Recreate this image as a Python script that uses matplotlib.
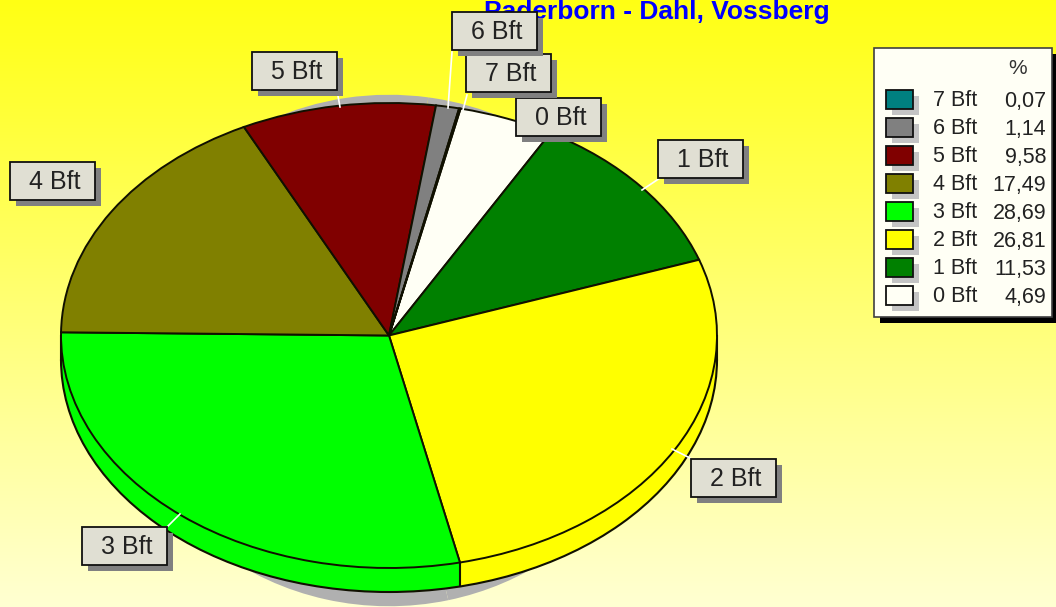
import numpy as np
import matplotlib
matplotlib.use("Agg")
import matplotlib.pyplot as plt
import matplotlib.transforms as mtrans
from matplotlib.patches import Rectangle, Arc

plt.rcParams['font.family'] = ['Liberation Sans', 'DejaVu Sans']

title = "Paderborn - Dahl, Vossberg"
categories = ["0 Bft", "1 Bft", "2 Bft", "3 Bft", "4 Bft", "5 Bft", "6 Bft", "7 Bft"]
values = [4.69, 11.53, 26.81, 28.69, 17.49, 9.58, 1.14, 0.07]
value_labels = ["4,69", "11,53", "26,81", "28,69", "17,49", "9,58", "1,14", "0,07"]
colors = ["#FFFFF5", "#008000", "#FFFF00", "#00FF00", "#808000", "#800000", "#808080", "#008080"]

W, H = 1056, 607
CX, CY, RX, RY, DEPTH = 389, 335.5, 328, 232.5, 24

fig = plt.figure(figsize=(W / 100, H / 100), dpi=100)

# background gradient
bg = fig.add_axes([0, 0, 1, 1], zorder=0)
t = np.linspace(0, 1, 256)[:, None]
blue = np.clip(20 + 190 * t, 0, 255)
img = np.dstack([np.full_like(t, 255), np.full_like(t, 255), blue]) / 255
bg.imshow(img, aspect='auto', extent=(0, 1, 0, 1))
bg.axis('off')

# pie axes: unit circle maps to the ellipse
ax = fig.add_axes([0, 0, 1, 1], zorder=1)
start = 77.4
d = DEPTH / RY


def pie(center, cols, radius=1, **kw):
    w, _ = ax.pie(values, colors=cols, startangle=start, counterclock=False,
                  center=center, radius=radius, frame=False, **kw)
    return w


# shadow: a narrower ellipse peeking out above and below the pie
shadow = pie((0, -15 / RY), ["#B0B0B0"] * len(values), radius=1.1, wedgeprops=dict(linewidth=0))
# side wall
for off in range(DEPTH, 0, -1):
    pie((0, -off / RY), colors, wedgeprops=dict(linewidth=0.6, edgecolor='none'))
ax.add_patch(Arc((0, -d), 2, 2, theta1=180, theta2=360, color='#101000', lw=1.5, zorder=3))
ax.plot([-1, -1], [0, -d], color='#101000', lw=1.5, zorder=3)
ax.plot([1, 1], [0, -d], color='#101000', lw=1.5, zorder=3)
# top
wedges = pie((0, 0), colors, wedgeprops=dict(linewidth=1.4, edgecolor='#101000', zorder=4))
for w in wedges:
    a = np.deg2rad(w.theta1)
    if np.sin(a) < 0:
        ax.plot([np.cos(a)] * 2, [np.sin(a), np.sin(a) - d], color='#101000', lw=1.5, zorder=3.5)
ax.set_aspect('auto')
ax.set_xlim(-CX / RX, (W - CX) / RX)
ax.set_ylim((CY - H) / RY, CY / RY)
ax.axis('off')
for w in shadow:
    w.set_transform(mtrans.Affine2D().scale(0.76, 1.0) + ax.transData)

# overlay in pixel coordinates
ov = fig.add_axes([0, 0, 1, 1], zorder=2)
ov.set_xlim(0, W)
ov.set_ylim(H, 0)
ov.axis('off')
ov.patch.set_alpha(0)

ov.text(657, 12, title, color='#0000FF', fontsize=19, fontweight='bold',
        ha='center', va='center', zorder=1)

# leader lines
leaders = {"0 Bft": [(530, 134), (545, 140)],
           "1 Bft": [(660, 178), (642, 190)],
           "2 Bft": [(672, 449), (690, 458)],
           "3 Bft": [(180, 514), (168, 526)],
           "5 Bft": [(338, 96), (340, 107)],
           "6 Bft": [(452, 52), (448, 108)],
           "7 Bft": [(467, 95), (463, 110)]}
for pts in leaders.values():
    xs, ys = zip(*pts)
    ov.plot(xs, ys, color='white', lw=1.2, zorder=2)

boxes = {"5 Bft": (252, 52), "4 Bft": (10, 162), "3 Bft": (82, 527), "2 Bft": (691, 459),
         "1 Bft": (658, 140), "0 Bft": (516, 98), "7 Bft": (466, 54), "6 Bft": (452, 12)}
BW, BH = 85, 38
for i, (name, (x, y)) in enumerate(boxes.items()):
    z = 3 + i
    ov.add_patch(Rectangle((x + 6, y + 6), BW, BH, fc='#808080', ec='none', zorder=z))
    ov.add_patch(Rectangle((x, y), BW, BH, fc='#E0DFD3', ec='#101010', lw=1.3, zorder=z))
    ov.text(x + 45, y + 20, name, fontsize=18, color='#222222', ha='center', va='center', zorder=z)

# legend
ov.add_patch(Rectangle((880, 54), 176, 269, fc='black', ec='none', zorder=20))
ov.add_patch(Rectangle((874, 48), 178, 269, fc='#FFFFF5', ec='#404040', lw=1.2, zorder=21))
ov.text(1018, 69, "%", fontsize=15, color='#333333', ha='center', va='center', zorder=22)
for row, i in enumerate(range(len(categories) - 1, -1, -1)):
    y = 90 + 28 * row
    ov.add_patch(Rectangle((892, y + 6), 27, 19, fc='#C4C4C4', ec='none', zorder=22))
    ov.add_patch(Rectangle((886, y), 27, 19, fc=colors[i], ec='#101010', lw=1.3, zorder=23))
    ov.text(933, y + 11, categories[i], fontsize=15.5, color='#222222', ha='left', va='center', zorder=23)
    ov.text(1046, y + 11, value_labels[i], fontsize=15.5, color='#222222', ha='right', va='center', zorder=23)

fig.savefig("out.png", dpi=100)
